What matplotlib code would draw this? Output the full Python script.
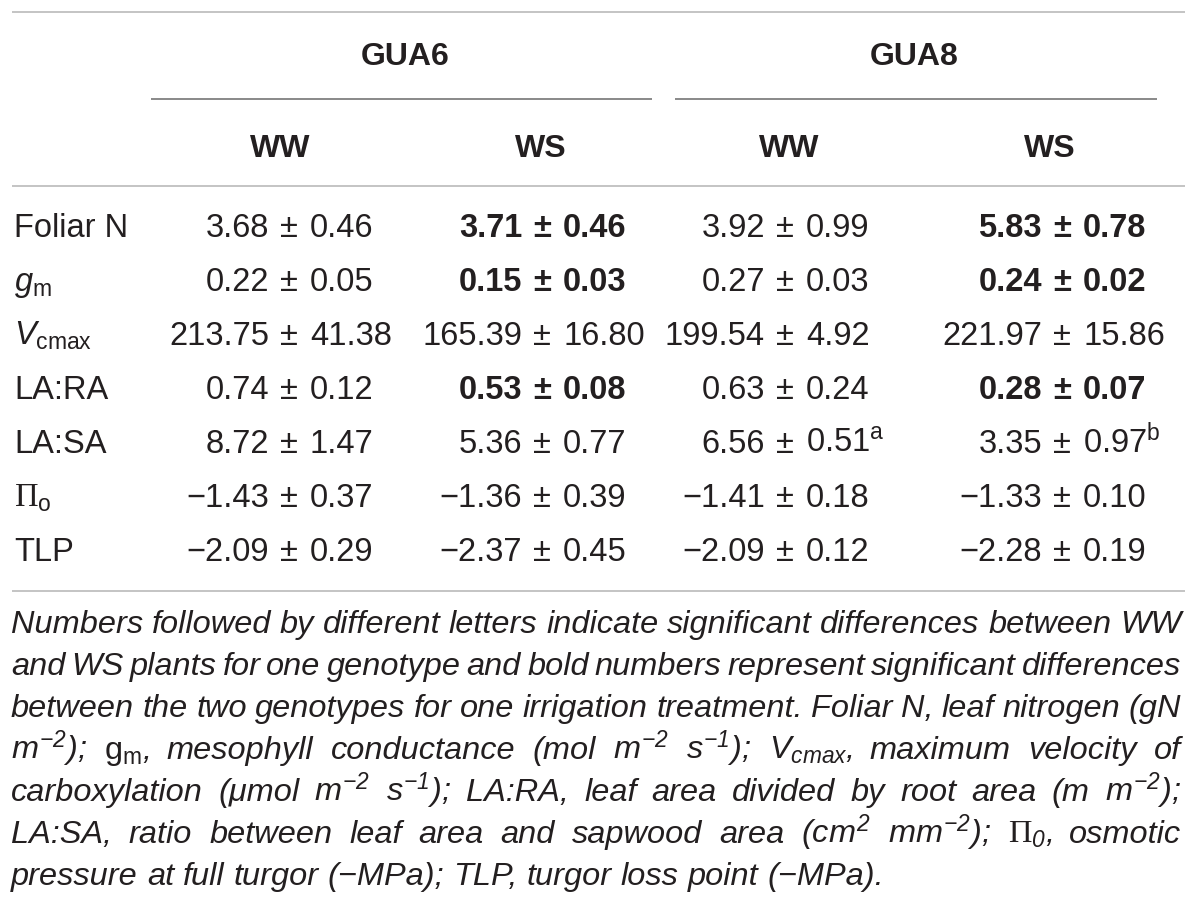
import matplotlib
matplotlib.use("Agg")
import matplotlib.pyplot as plt

plt.rcParams['font.family'] = ['Liberation Sans', 'DejaVu Sans']
plt.rcParams['mathtext.fontset'] = 'custom'
plt.rcParams['mathtext.rm'] = 'Liberation Sans:italic'
plt.rcParams['mathtext.it'] = 'Liberation Sans:italic'
plt.rcParams['mathtext.sf'] = 'Liberation Sans'
plt.rcParams['mathtext.bf'] = 'Liberation Sans:bold'
plt.rcParams['mathtext.tt'] = 'Liberation Serif'

# ---------------- data ----------------
genotypes = ['GUA6', 'GUA8']
treatments = ['WW', 'WS']
row_labels = ['Foliar N', r'$g_{\mathsf{m}}$', r'$V_{\mathsf{cmax}}$', 'LA:RA', 'LA:SA',
              r'$\mathtt{\Pi}_{\mathsf{o}}$', 'TLP']

gua6_ww_mean = [3.68, 0.22, 213.75, 0.74, 8.72, -1.43, -2.09]
gua6_ww_sd = [0.46, 0.05, 41.38, 0.12, 1.47, 0.37, 0.29]
gua6_ws_mean = [3.71, 0.15, 165.39, 0.53, 5.36, -1.36, -2.37]
gua6_ws_sd = [0.46, 0.03, 16.80, 0.08, 0.77, 0.39, 0.45]
gua8_ww_mean = [3.92, 0.27, 199.54, 0.63, 6.56, -1.41, -2.09]
gua8_ww_sd = [0.99, 0.03, 4.92, 0.24, 0.51, 0.18, 0.12]
gua8_ws_mean = [5.83, 0.24, 221.97, 0.28, 3.35, -1.33, -2.28]
gua8_ws_sd = [0.78, 0.02, 15.86, 0.07, 0.97, 0.10, 0.19]

gua6_ww_bold = [False] * 7
gua6_ws_bold = [True, True, False, True, False, False, False]
gua8_ww_bold = [False] * 7
gua8_ws_bold = [True, True, False, True, False, False, False]

gua6_ww_letter = [''] * 7
gua6_ws_letter = [''] * 7
gua8_ww_letter = ['', '', '', '', 'a', '', '']
gua8_ws_letter = ['', '', '', '', 'b', '', '']

footnote_lines = [
    "Numbers followed by different letters indicate significant differences between WW",
    "and WS plants for one genotype and bold numbers represent significant differences",
    "between the two genotypes for one irrigation treatment. Foliar N, leaf nitrogen (gN",
    r"$m^{-2}$); $\mathsf{g}_{\mathsf{m}}$, mesophyll conductance (mol $m^{-2}$ $s^{-1}$); $V_{cmax}$, maximum velocity of",
    r"carboxylation (μmol $m^{-2}$ $s^{-1}$); LA:RA, leaf area divided by root area (m $m^{-2}$);",
    r"LA:SA, ratio between leaf area and sapwood area ($cm^{2}$ $mm^{-2}$); $\mathtt{\Pi}_{0}$, osmotic",
    "pressure at full turgor (−MPa); TLP, turgor loss point (−MPa).",
]

# ---------------- layout ----------------
W, H = 1200, 908
fig = plt.figure(figsize=(W / 100, H / 100), dpi=100)
ax = fig.add_axes([0, 0, 1, 1])
ax.set_xlim(0, W)
ax.set_ylim(H, 0)
ax.axis('off')

TXT = '#231f20'
LINE_LIGHT = '#c4c4c4'
LINE_DARK = '#6a6a6a'

# rules
ax.plot([12, 1185], [12, 12], color=LINE_LIGHT, lw=1.4, solid_capstyle='butt')
ax.plot([151, 652], [99, 99], color=LINE_DARK, lw=1.1, solid_capstyle='butt')
ax.plot([675, 1157], [99, 99], color=LINE_DARK, lw=1.1, solid_capstyle='butt')
ax.plot([12, 1185], [186, 186], color=LINE_LIGHT, lw=1.4, solid_capstyle='butt')
ax.plot([12, 1185], [591, 591], color=LINE_LIGHT, lw=1.4, solid_capstyle='butt')

# headers
geno_x = [405, 914]
treat_x = [280, 541, 789, 1050]
HF = 23
for g, x in zip(genotypes, geno_x):
    ax.text(x, 65, g, ha='center', va='baseline', fontsize=HF, weight='bold', color=TXT)
for i, x in enumerate(treat_x):
    ax.text(x, 157, treatments[i % 2], ha='center', va='baseline', fontsize=HF,
            weight='bold', color=TXT)

# body
FS = 23.5
row_base = [237 + 54 * k for k in range(len(row_labels))]
for lab, y in zip(row_labels, row_base):
    ax.text(14, y, lab, ha='left', va='baseline', fontsize=FS, color=TXT)


def fmt(v):
    s = '%.2f' % abs(v)
    return ('\u2212' + s) if v < 0 else s


columns = [
    (289, gua6_ww_mean, gua6_ww_sd, gua6_ww_bold, gua6_ww_letter),
    (542, gua6_ws_mean, gua6_ws_sd, gua6_ws_bold, gua6_ws_letter),
    (785, gua8_ww_mean, gua8_ww_sd, gua8_ww_bold, gua8_ww_letter),
    (1062, gua8_ws_mean, gua8_ws_sd, gua8_ws_bold, gua8_ws_letter),
]
for xpm, means, sds, bolds, letters in columns:
    for m, s, b, let, y in zip(means, sds, bolds, letters, row_base):
        w = 'bold' if b else 'normal'
        right = fmt(s)
        if let:
            right += r'$^{\mathsf{%s}}$' % let
        ax.text(xpm - 20, y, fmt(m), ha='right', va='baseline', fontsize=FS, weight=w, color=TXT)
        ax.text(xpm, y, '\u00b1', ha='center', va='baseline', fontsize=FS, weight=w, color=TXT)
        ax.text(xpm + 21, y, right, ha='left', va='baseline', fontsize=FS, weight=w, color=TXT)

# footnote (justified)
renderer = fig.canvas.get_renderer()
x0, x1 = 11, 1181
last_target = 869  # natural width of the last footnote line
probe = ax.text(0, 0, footnote_lines[-1], fontsize=20, style='italic')
FN = 20 * last_target / probe.get_window_extent(renderer).width
probe.remove()

fn_base = [633 + 42 * k for k in range(len(footnote_lines))]
for li, (line, y) in enumerate(zip(footnote_lines, fn_base)):
    words, cur, inmath = [], '', False
    for ch in line:
        if ch == '$':
            inmath = not inmath
        if ch == ' ' and not inmath:
            words.append(cur)
            cur = ''
        else:
            cur += ch
    words.append(cur)
    texts = [ax.text(0, y, wd, ha='left', va='baseline', fontsize=FN, style='italic',
                     color=TXT) for wd in words]
    widths = [t.get_window_extent(renderer).width for t in texts]
    if li < len(footnote_lines) - 1 and len(words) > 1:
        gap = (x1 - x0 - sum(widths)) / (len(words) - 1)
    else:
        gap = 0.278 * FN * 100 / 72
    x = x0
    for t, wdt in zip(texts, widths):
        t.set_x(x)
        x += wdt + gap

fig.savefig('out.png', dpi=100)
